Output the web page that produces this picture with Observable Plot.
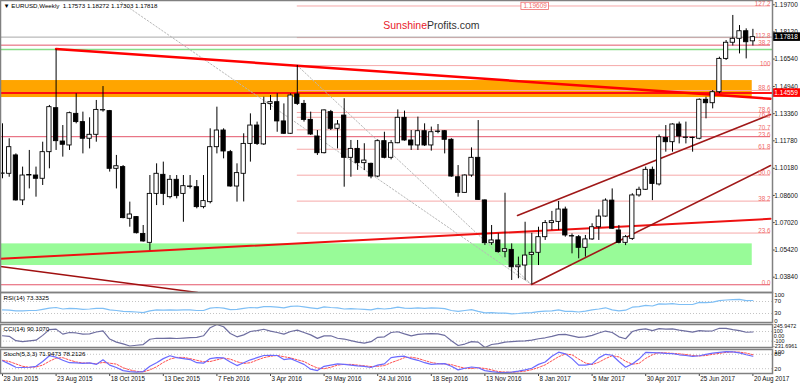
<!DOCTYPE html>
<html><head><meta charset="utf-8">
<script src="https://cdn.jsdelivr.net/npm/d3@7"></script>
<script src="https://cdn.jsdelivr.net/npm/@observablehq/plot@0.6"></script>
<style>
body{margin:0;background:#fff;}
#chart{position:relative;width:800px;height:386px;overflow:hidden;background:#fff;}
#chart svg{position:absolute;left:0;overflow:visible;}
</style></head><body><div id="chart"></div>
<script>
// ---------- weekly candles (bar index 0 = week of 28 Jun 2015) ----------
const opens = [1.0986,1.0986,1.1093,1.0831,1.0976,1.0976,1.0957,1.1112,1.1368,1.1174,
1.1151,1.1335,1.1287,1.1190,1.1213,1.1355,1.1351,1.1015,1.1025,1.0724,
1.0734,1.0636,1.0584,1.0869,1.0980,1.0850,1.0951,1.0869,1.0912,1.0908,
1.0792,1.0821,1.1141,1.1238,1.1112,1.0912,1.0986,1.1160,1.1267,1.1157,
1.1393,1.1403,1.1291,1.1219,1.1448,1.1393,1.1300,1.1203,1.1106,1.1345,
1.1248,1.1325,1.1079,1.1131,1.1048,1.1044,1.0970,1.1176,1.1079,1.1164,
1.1312,1.1180,1.1151,1.1234,1.1151,1.1232,1.1234,1.1184,1.0966,1.0875,
1.0976,1.1079,1.0831,1.0582,1.0598,1.0532,1.0543,1.0442,1.0452,1.0514,
1.0526,1.0617,1.0699,1.0706,1.0778,1.0623,1.0617,1.0555,1.0604,1.0675,
1.0737,1.0830,1.0656,1.0584,1.0607,1.0860,1.0893,1.1009,1.0924,1.1195,
1.1170,1.1273,1.1195,1.1194,1.1190,1.1417,1.1397,1.1461,1.1655,1.1749,
1.1772,1.1816,1.17573];
const highs = [1.1277,1.1190,1.1102,1.1025,1.1122,1.1025,1.1170,1.1384,1.1708,1.1267,
1.1345,1.1452,1.1345,1.1312,1.1413,1.1494,1.1355,1.1093,1.1034,1.0821,
1.0737,1.0685,1.0976,1.1044,1.1054,1.0976,1.0976,1.0976,1.0976,1.0947,
1.0976,1.1248,1.1374,1.1248,1.1122,1.1044,1.1219,1.1335,1.1287,1.1432,
1.1442,1.1452,1.1393,1.1452,1.1617,1.1413,1.1345,1.1238,1.1358,1.1355,
1.1296,1.1423,1.1180,1.1180,1.1161,1.1048,1.1184,1.1228,1.1180,1.1358,
1.1351,1.1238,1.1316,1.1277,1.1258,1.1273,1.1238,1.1190,1.1034,1.0980,
1.1137,1.1296,1.0834,1.0685,1.0637,1.0873,1.0578,1.0501,1.0704,1.0640,
1.0675,1.0714,1.0767,1.0825,1.0792,1.0636,1.0627,1.0627,1.0695,1.0776,
1.0840,1.0898,1.0685,1.0627,1.0870,1.0908,1.1025,1.1025,1.1212,1.1267,
1.1277,1.1287,1.1287,1.1199,1.1422,1.1432,1.1471,1.1665,1.1762,1.1908,
1.1849,1.1830,1.18272];
const lows = [1.0957,1.0966,1.0827,1.0801,1.0898,1.0850,1.0918,1.1015,1.1122,1.1083,
1.1122,1.1277,1.1102,1.1131,1.1170,1.1345,1.0996,1.0898,1.0724,1.0675,
1.0636,1.0588,1.0539,1.0801,1.0801,1.0840,1.0840,1.0704,1.0898,1.0782,
1.0782,1.0811,1.1102,1.1073,1.0908,1.0821,1.0822,1.1054,1.1151,1.1151,
1.1355,1.1228,1.1215,1.1215,1.1384,1.1287,1.1209,1.1093,1.1102,1.1238,
1.1131,1.0908,1.0966,1.1006,1.1005,1.0957,1.0963,1.1073,1.1067,1.1161,
1.1176,1.1122,1.1122,1.1145,1.1118,1.1219,1.1102,1.0966,1.0850,1.0873,
1.0966,1.0831,1.0569,1.0569,1.0524,1.0497,1.0365,1.0375,1.0365,1.0342,
1.0452,1.0598,1.0656,1.0656,1.0617,1.0520,1.0491,1.0501,1.0598,1.0598,
1.0734,1.0662,1.0578,1.0568,1.0598,1.0850,1.0889,1.0830,1.0915,1.1112,
1.1112,1.1160,1.1160,1.1112,1.1184,1.1306,1.1364,1.1452,1.1646,1.1730,
1.1684,1.1655,1.17303];
const closes = [1.0988,1.1141,1.0831,1.0976,1.0979,1.0957,1.1112,1.1374,1.1176,1.1155,
1.1339,1.1287,1.1190,1.1213,1.1358,1.1357,1.1015,1.1030,1.0728,1.0749,
1.0640,1.0592,1.0869,1.0986,1.0869,1.0951,1.0856,1.0914,1.0910,1.0792,
1.0827,1.1141,1.1238,1.1116,1.0912,1.0990,1.1160,1.1267,1.1160,1.1393,
1.1403,1.1291,1.1219,1.1442,1.1393,1.1300,1.1215,1.1106,1.1355,1.1248,
1.1273,1.1079,1.1131,1.1048,1.1063,1.0970,1.1176,1.1079,1.1164,1.1312,
1.1180,1.1151,1.1234,1.1151,1.1228,1.1230,1.1184,1.0970,1.0875,1.0976,
1.1079,1.0834,1.0582,1.0598,1.0530,1.0547,1.0442,1.0452,1.0510,1.0526,
1.0617,1.0699,1.0710,1.0778,1.0627,1.0621,1.0555,1.0604,1.0675,1.0737,
1.0830,1.0666,1.0584,1.0617,1.0860,1.0893,1.1009,1.0927,1.1199,1.1170,
1.1273,1.1203,1.1197,1.1196,1.1417,1.1397,1.1461,1.1655,1.1749,1.1772,
1.1816,1.1752,1.17818];

// ---------- indicators ----------
const rsi = [42,41,39,39,40,40,44,48,50,45,47,46,44,45,47,47,42,40,37,36,
35,33,39,42,41,42,41,42,42,40,40,48,50,48,43,44,47,50,49,53,
53,51,49,54,55,52,49,46,52,50,49,45,46,45,44,42,47,45,47,51,
48,47,49,47,49,48,46,40,37,40,43,37,32,33,31,31,29,30,32,33,
36,38,39,42,37,37,35,38,42,45,49,42,39,41,51,53,57,55,62,61,
63,60,60,60,67,66,68,73,75,76,77,73,73.3325];
const cci = [12,0,-90,-110,-95,-80,20,140,150,46,80,70,46,50,90,114,-56,-120,-157,-200,
-185,-170,-60,-40,-42,-38,-45,-35,-25,-22,12,180,245.9472,200,60,-10,30,100,120,147,
110,80,45,100,130,80,30,-42,10,12,-40,-56,-90,-120,-140,-110,-20,-10,80,95,
50,10,40,50,55,50,20,-90,-190,-160,-110,-120,-231.6961,-170,-150,-120,-110,-100,-96,-80,
-50,-30,0,35,40,10,-20,-10,20,70,110,80,-10,-50,100,140,154,120,160,150,
155,130,110,86,120,110,115,168,165,140,120,85,90.1070];
const stochMain = [53,40,26,25,26,30,50,74,68,55,45,44,42,44,38,57,35,25,12,8,
6,8,30,45,62,74,66,62,58,45,43,62,66,65,48,33,45,57,66,75,
76,75,58,62,50,38,18,12,30,35,40,38,35,32,30,25,35,40,66,70,
72,62,55,45,38,40,41,30,15,22,27,24,12,8,5,4,6,10,15,22,
38,48,72,89,82,62,35,35,40,65,80,76,50,26,40,60,88,87,86,84,
83,78,75,71,74,80,85,88,91,90,86,78,71.9473];
const stochSignal = [55,50,40,30,26,27,35,51,64,66,56,48,44,43,41,46,43,39,24,15,
9,7,15,28,46,60,67,67,62,55,49,50,57,64,60,49,42,45,56,66,
72,75,70,65,57,50,35,23,20,26,35,38,38,35,32,29,30,33,45,55,
66,68,63,54,46,41,40,37,29,22,21,24,21,15,8,6,5,7,10,16,
25,36,53,70,81,78,60,44,37,47,62,74,69,51,39,42,63,78,87,86,
84,82,79,75,73,75,80,84,88,90,89,85,78.2126];

// ---------- axis labels ----------
const dateLabels = ["28 Jun 2015","23 Aug 2015","18 Oct 2015","13 Dec 2015","7 Feb 2016","3 Apr 2016","29 May 2016","24 Jul 2016","18 Sep 2016","13 Nov 2016","8 Jan 2017","5 Mar 2017","30 Apr 2017","25 Jun 2017","20 Aug 2017"];
const dateIndex = [0,8,16,24,32,40,48,56,64,72,80,88,96,104,112];
const priceTicks = [1.19700,1.18120,1.16540,1.14940,1.13360,1.11780,1.10180,1.08600,1.07020,1.05420,1.03840];
const rsiTop = [100], rsiMid = [70,30], rsiBottom = [0];
const cciTop = [245.9472], cciMid = [100,0,-100], cciBottom = [-231.6961];
const stochTop = [100], stochMid = [80,20];

// ---------- drawn objects ----------
const fibALevels = ["127.2","112.8","100","88.6","78.6","76.4","70.7","61.8","50.0","38.2","23.6"];
const fibAPrices = [1.1963,1.1779,1.1616,1.1471,1.1343,1.1315,1.1242,1.1129,1.0978,1.0827,1.0641];
const fibBLevels = ["38.2","23.6","0.0"];
const fibBPrices = [1.1735,1.1202,1.0340];
const fibAStart = 44;            // bar of the May 2016 high
const lastPrice = 1.17818;
const levelPrice = 1.14559;
const greenLevel = 1.1710;
const fib127Price = 1.19609;
const orangeZone = {from:-0.3, to:111.9, low:1.1430, high:1.1529};
const greenZone  = {from:-0.3, to:111.9, low:1.0452, high:1.0578};
const resistanceLine = [{i:8,p:1.1713},{i:114.63,p:1.1423}];
const supportLine = [{i:-0.3,p:1.0491},{i:114.63,p:1.0724}];
const oldDownLine = [{i:-0.3,p:1.0446},{i:29.1,p:1.0295}];
const channelUpper = [{i:76.87,p:1.0743},{i:114.63,p:1.1331}];
const channelLower = [{i:78.96,p:1.0342},{i:114.63,p:1.1034}];
const fibADiag = [{i:44,p:1.1616},{i:79,p:1.0340}];
const fibBDiag = [{i:17.3,p:1.1995},{i:79,p:1.0340}];

// ---------- layout ----------
const FONT = "'Liberation Sans', Arial, sans-serif";
const W = 800, MR = 28;
const xDomain = [-0.29851, 114.925];
const xRight = 114.925, xEdge = 119.1, xLabel = 115.2, xFibLabel = 114.63;
const chart = document.getElementById("chart");
function place(svg, top){ svg.style.top = top + "px"; chart.appendChild(svg); }
const base = {width:W, marginLeft:0, marginRight:MR, x:{domain:xDomain, axis:null},
  style:{fontFamily:FONT, background:"transparent", overflow:"visible"}};

const bars = opens.map((o,i)=>({i, o, h:highs[i], l:lows[i], c:closes[i],
  top:Math.max(o,closes[i]), bot:Math.min(o,closes[i]), up:closes[i]>=o}));

const AF = 6.5;      // axis label font size
const boxHalf = 0.0025;
const axText = (vals, anchor, fmt, size=AF, x=xLabel) => Plot.text(vals,{x,y:d=>d,text:fmt,textAnchor:"start",lineAnchor:anchor,fill:"#111",fontSize:size});

const main = Plot.plot({...base, height:292, marginTop:0, marginBottom:0,
  y:{domain:[1.02949,1.19950], axis:null},
  marks:[
    Plot.rect([orangeZone],{x1:"from",x2:"to",y1:"low",y2:"high",fill:"#ffa500"}),
    Plot.rect([greenZone],{x1:"from",x2:"to",y1:"low",y2:"high",fill:"#98fb98"}),
    Plot.ruleY(fibAPrices,{x1:fibAStart,x2:xFibLabel,stroke:"#f6a8a8",strokeWidth:1}),
    Plot.ruleY(fibBPrices,{x1:xDomain[0],x2:xFibLabel,stroke:"#e4566a",strokeWidth:1}),
    Plot.ruleY([lastPrice],{x1:xDomain[0],x2:xRight,stroke:"#a8a8a8",strokeWidth:1}),
    Plot.ruleY([greenLevel],{x1:xDomain[0],x2:xRight,stroke:"#86dc86",strokeWidth:1.6}),
    Plot.ruleY([levelPrice],{x1:xDomain[0],x2:xRight,stroke:"#ff1010",strokeWidth:2}),
    Plot.line(fibADiag,{x:"i",y:"p",stroke:"#b8b8b8",strokeWidth:1,strokeDasharray:"1.5,2"}),
    Plot.line(fibBDiag,{x:"i",y:"p",stroke:"#b8b8b8",strokeWidth:1,strokeDasharray:"1.5,2",clip:true}),
    Plot.line(resistanceLine,{x:"i",y:"p",stroke:"#ff0000",strokeWidth:2.5}),
    Plot.line(supportLine,{x:"i",y:"p",stroke:"#ee1111",strokeWidth:2}),
    Plot.line(oldDownLine,{x:"i",y:"p",stroke:"#a01010",strokeWidth:1.5,clip:true}),
    Plot.line(channelUpper,{x:"i",y:"p",stroke:"#a01818",strokeWidth:1.6}),
    Plot.line(channelLower,{x:"i",y:"p",stroke:"#a01818",strokeWidth:1.6}),
    // candles
    Plot.ruleX(bars,{x:"i",y1:"l",y2:"h",stroke:"#000",strokeWidth:1}),
    Plot.rect(bars.filter(d=>d.up),{x1:d=>d.i-0.32,x2:d=>d.i+0.32,y1:"bot",y2:"top",fill:"#fff",stroke:"#000",strokeWidth:0.9}),
    Plot.rect(bars.filter(d=>!d.up),{x1:d=>d.i-0.32,x2:d=>d.i+0.32,y1:"bot",y2:"top",fill:"#000",stroke:"#000",strokeWidth:0.9}),
    // fib labels
    Plot.text(fibAPrices,{x:xFibLabel,y:d=>d,text:(d,k)=>fibALevels[k],textAnchor:"end",lineAnchor:"bottom",fill:"#f06a6a",fontSize:6.3}),
    Plot.text(fibBPrices,{x:xFibLabel,y:d=>d,text:(d,k)=>fibBLevels[k],textAnchor:"end",lineAnchor:"bottom",fill:"#f06a6a",fontSize:6.3}),
    // 127.2 price tag
    Plot.rect([fib127Price],{x1:77.45,x2:81.55,y1:d=>d-0.0021,y2:d=>d+0.0021,fill:"#fff",stroke:"#f06a6a",strokeWidth:0.8}),
    Plot.text([fib127Price],{x:79.5,y:d=>d,text:d=>d.toFixed(5),fill:"#f06a6a",fontSize:6.5}),
    // price axis
    Plot.ruleX([xRight],{stroke:"#333",strokeWidth:1}),
    Plot.ruleY(priceTicks,{x1:xRight,x2:xRight+0.4,stroke:"#333"}),
    axText(priceTicks,"middle",d=>d.toFixed(5)),
    Plot.rect([lastPrice],{x1:xRight,x2:xEdge,y1:d=>d-boxHalf,y2:d=>d+boxHalf,fill:"#000"}),
    Plot.text([lastPrice],{x:xLabel,y:d=>d,text:d=>d.toFixed(5),textAnchor:"start",fill:"#fff",fontSize:AF}),
    Plot.rect([levelPrice],{x1:xRight,x2:xEdge,y1:d=>d-boxHalf,y2:d=>d+boxHalf,fill:"#ff0000"}),
    Plot.text([levelPrice],{x:xLabel,y:d=>d,text:d=>d.toFixed(5),textAnchor:"start",fill:"#fff",fontSize:AF}),
    // header + watermark
    Plot.text(["\u25BC EURUSD,Weekly  1.17573 1.18272 1.17303 1.17818"],{frameAnchor:"top-left",dx:3,dy:3,textAnchor:"start",lineAnchor:"top",fill:"#000",fontSize:6.2}),
    Plot.text(["Sunshine"],{frameAnchor:"top-left",dx:426.5,dy:21.5,textAnchor:"end",fill:"#e8202a",fontSize:10.5}),
    Plot.text(["Profits.com"],{frameAnchor:"top-left",dx:426.5,dy:21.5,textAnchor:"start",fill:"#333",fontSize:10.5}),
    Plot.frame({stroke:"#808080",strokeWidth:1.5})
  ]});
place(main, 0);

const levelStyle = {stroke:"#c4c4c4",strokeWidth:1,strokeDasharray:"1,2"};
const title = (t, dy) => Plot.text([t],{frameAnchor:"top-left",dx:3,dy,textAnchor:"start",lineAnchor:"top",fill:"#000",fontSize:6.2});

const rsiPlot = Plot.plot({...base, height:32, marginTop:0, marginBottom:2,
  y:{domain:[0,100], axis:null},
  marks:[
    Plot.ruleY([70,30],levelStyle),
    Plot.lineY(rsi,{x:(d,k)=>k,y:d=>d,stroke:"#7fbff5",strokeWidth:1.2}),
    Plot.ruleX([xRight],{stroke:"#333"}),
    axText(rsiTop,"top",d=>String(d),6),
    axText(rsiMid,"middle",d=>String(d),6),
    axText(rsiBottom,"bottom",d=>String(d),6),
    title("RSI(14) 73.3325",3),
    Plot.frame({stroke:"#808080",strokeWidth:1.5})
  ]});
place(rsiPlot, 292);

const cciPlot = Plot.plot({...base, height:25, marginTop:1, marginBottom:1,
  y:{domain:[-231.6961,245.9472], axis:null},
  marks:[
    Plot.ruleY([100,-100],levelStyle),
    Plot.lineY(cci,{x:(d,k)=>k,y:d=>d,stroke:"#6e6ea0",strokeWidth:1.2}),
    Plot.ruleX([xRight],{stroke:"#333"}),
    axText(cciTop,"top",d=>d.toFixed(4),5.4,115.1),
    axText(cciMid,"middle",d=>d===0?"0.00":String(d),5.4,115.1),
    axText(cciBottom,"bottom",d=>d.toFixed(4),5.4,115.0),
    title("CCI(14) 90.1070",2),
    Plot.frame({stroke:"#808080",strokeWidth:1.5})
  ]});
place(cciPlot, 323);

const stochPlot = Plot.plot({...base, height:38, marginTop:1, marginBottom:13,
  y:{domain:[0,100], axis:null},
  marks:[
    Plot.ruleY([80,20],levelStyle),
    Plot.lineY(stochSignal,{x:(d,k)=>k,y:d=>d,stroke:"#ff5050",strokeWidth:1,strokeDasharray:"2,1.5"}),
    Plot.lineY(stochMain,{x:(d,k)=>k,y:d=>d,stroke:"#6a6aff",strokeWidth:1.2}),
    Plot.ruleX([xRight],{stroke:"#333"}),
    axText(stochTop,"top",d=>String(d),6),
    axText(stochMid,"middle",d=>String(d),6),
    title("Stoch(5,3,3) 71.9473 78.2126",2),
    Plot.ruleX(dateIndex,{y1:0,y2:-12,stroke:"#333",strokeWidth:1}),
    Plot.text(dateIndex,{x:d=>d,y:0,text:(d,k)=>dateLabels[k],textAnchor:"start",lineAnchor:"top",dy:3,dx:1,fill:"#111",fontSize:6.3}),
    Plot.frame({stroke:"#808080",strokeWidth:1.5})
  ]});
place(stochPlot, 348);
</script></body></html>
